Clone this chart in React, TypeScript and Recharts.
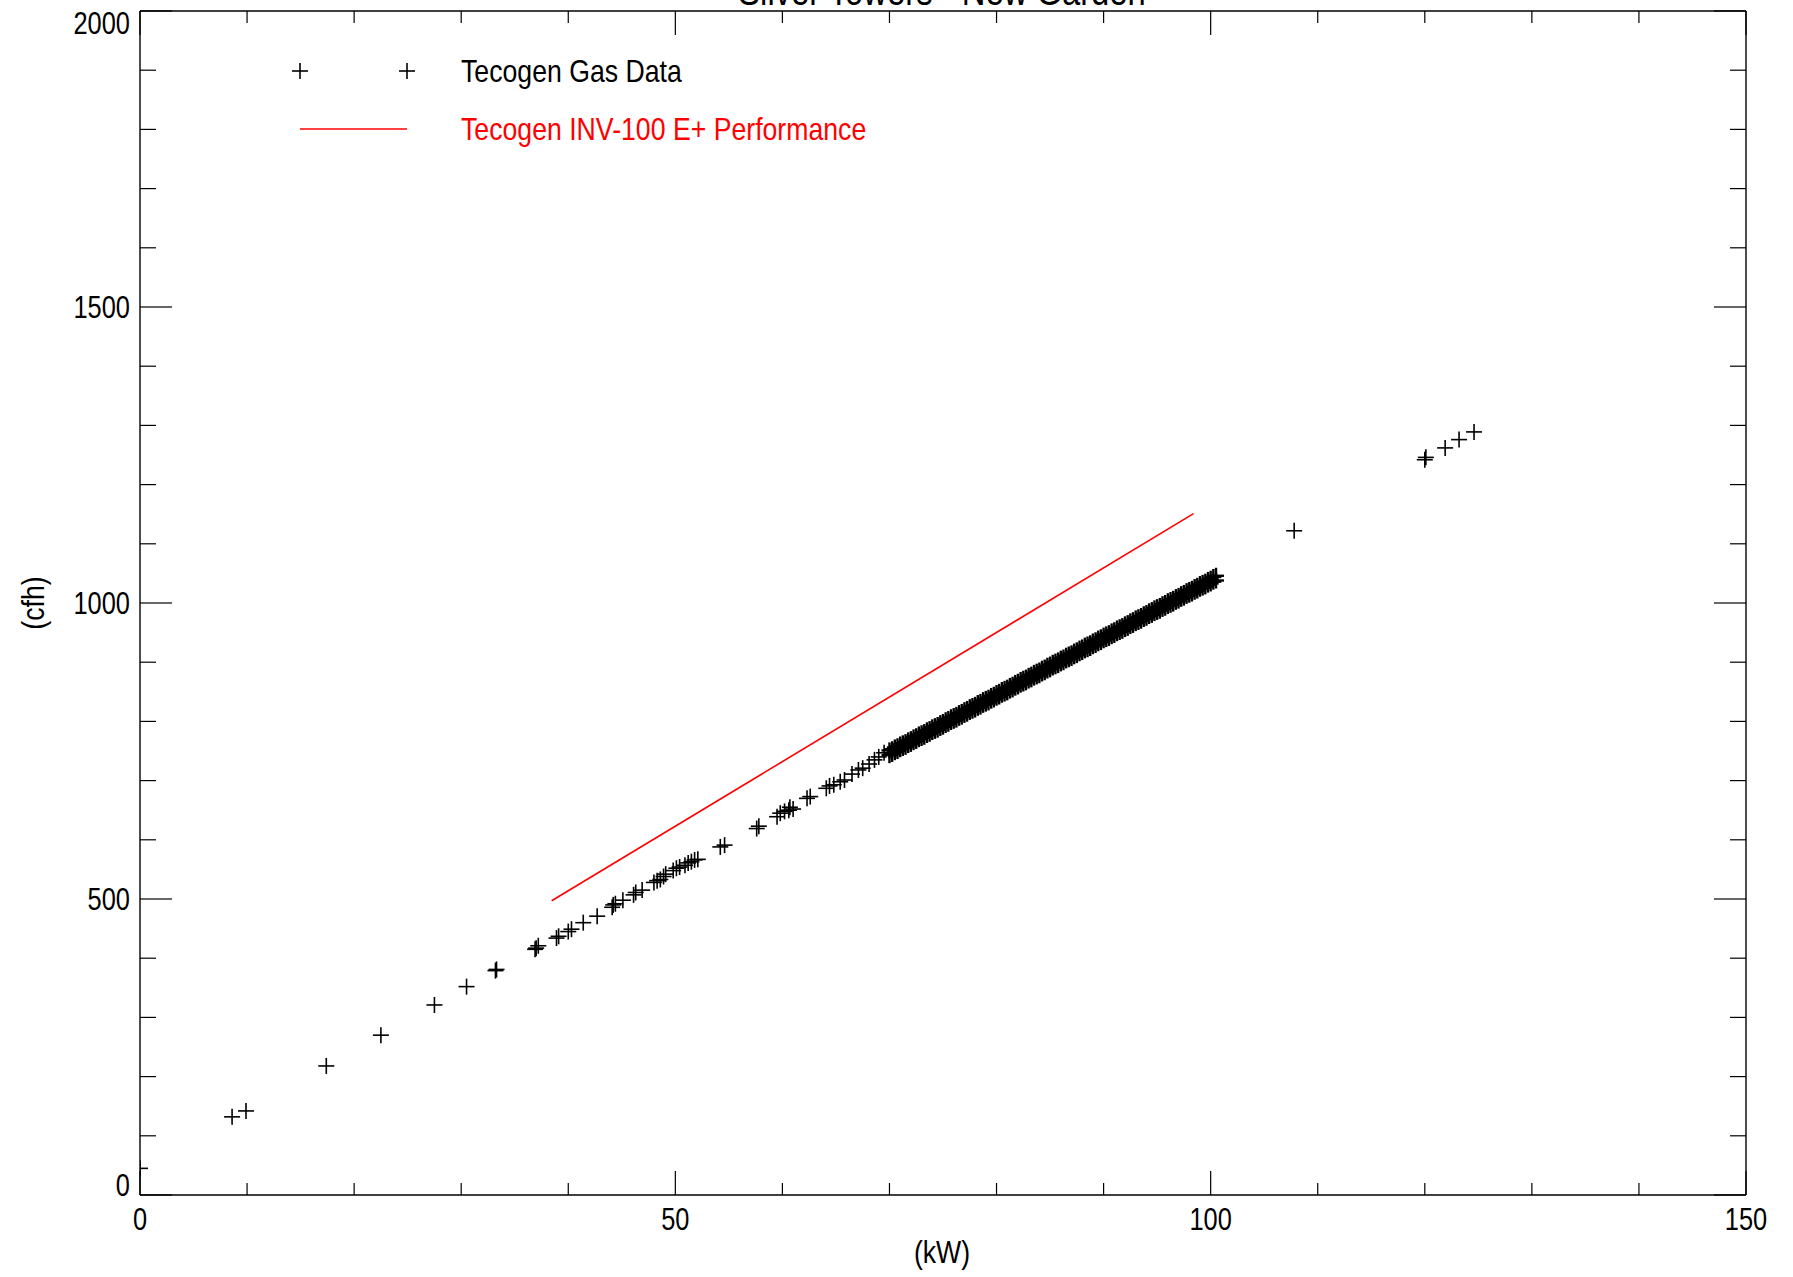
import { Scatter, ScatterChart, XAxis, YAxis } from "recharts";

const FONT = '"Liberation Sans", Arial, sans-serif';

const X_TICKS = [0, 10, 20, 30, 40, 50, 60, 70, 80, 90, 100, 110, 120, 130, 140, 150];
const Y_TICKS = [
  0, 100, 200, 300, 400, 500, 600, 700, 800, 900, 1000, 1100, 1200, 1300, 1400, 1500, 1600,
  1700, 1800, 1900, 2000,
];

// scattered gas readings (kW, cfh)
const SPARSE_KW = [
  0, 8.6, 9.9, 17.4, 22.5, 27.5, 30.5, 33.2, 33.3, 36.9, 37.0, 37.2, 38.9, 39.1, 40.0, 40.3,
  41.4, 42.7, 44.1, 44.2, 44.4, 45.1, 46.1, 46.3, 46.9, 48.0, 48.3, 48.6, 48.9, 49.1, 49.8,
  50.1, 50.4, 50.9, 51.2, 51.5, 51.8, 52.1, 54.2, 54.6, 57.6, 57.8, 59.5, 59.8, 60.2, 60.6,
  60.7, 61.0, 62.3, 62.6, 64.1, 64.4, 64.8, 65.4, 65.8, 66.5, 67.1, 67.5, 68.1, 68.6, 69.0,
  69.5, 107.8, 120.0, 120.1, 121.9, 123.2, 124.6,
];
const SPARSE_CFH = [
  45, 132, 142, 218, 270, 321, 352, 379, 381, 415, 417, 421, 434, 437, 445, 449, 460, 471, 486,
  490, 492, 498, 507, 511, 515, 528, 531, 533, 538, 542, 548, 552, 554, 557, 561, 563, 566, 567,
  588, 591, 619, 623, 639, 645, 648, 650, 655, 652, 670, 673, 687, 691, 693, 698, 701, 711, 718,
  721, 728, 735, 740, 747, 1122, 1242, 1246, 1262, 1276, 1289,
];

// the dense band of readings between 70 and 100 kW (upper and lower edge)
const BAND_KW = [
  70.0, 70.25, 70.5, 70.75, 71.0, 71.25, 71.5, 71.75, 72.0, 72.25, 72.5, 72.75, 73.0, 73.25,
  73.5, 73.75, 74.0, 74.25, 74.5, 74.75, 75.0, 75.25, 75.5, 75.75, 76.0, 76.25, 76.5, 76.75,
  77.0, 77.25, 77.5, 77.75, 78.0, 78.25, 78.5, 78.75, 79.0, 79.25, 79.5, 79.75, 80.0, 80.25,
  80.5, 80.75, 81.0, 81.25, 81.5, 81.75, 82.0, 82.25, 82.5, 82.75, 83.0, 83.25, 83.5, 83.75,
  84.0, 84.25, 84.5, 84.75, 85.0, 85.25, 85.5, 85.75, 86.0, 86.25, 86.5, 86.75, 87.0, 87.25,
  87.5, 87.75, 88.0, 88.25, 88.5, 88.75, 89.0, 89.25, 89.5, 89.75, 90.0, 90.25, 90.5, 90.75,
  91.0, 91.25, 91.5, 91.75, 92.0, 92.25, 92.5, 92.75, 93.0, 93.25, 93.5, 93.75, 94.0, 94.25,
  94.5, 94.75, 95.0, 95.25, 95.5, 95.75, 96.0, 96.25, 96.5, 96.75, 97.0, 97.25, 97.5, 97.75,
  98.0, 98.25, 98.5, 98.75, 99.0, 99.25, 99.5, 99.75, 100.0, 100.25, 100.5,
];
const BAND_CFH_HIGH = [
  751, 753, 756, 758, 761, 763, 765, 768, 770, 773, 775, 778, 780, 782, 785, 787, 790, 792, 794,
  797, 799, 802, 804, 807, 809, 811, 814, 816, 819, 821, 824, 826, 828, 831, 833, 836, 838, 840,
  843, 845, 848, 850, 853, 855, 857, 860, 862, 865, 867, 870, 872, 874, 877, 879, 882, 884, 886,
  889, 891, 894, 896, 899, 901, 903, 906, 908, 911, 913, 915, 918, 920, 923, 925, 928, 930, 932,
  935, 937, 940, 942, 945, 947, 949, 952, 954, 957, 959, 961, 964, 966, 969, 971, 974, 976, 978,
  981, 983, 986, 988, 991, 993, 995, 998, 1000, 1003, 1005, 1007, 1010, 1012, 1015, 1017, 1020,
  1022, 1024, 1027, 1029, 1032, 1034, 1036, 1039, 1041, 1044, 1046,
];
const BAND_CFH_LOW = [
  743, 745, 748, 750, 753, 755, 757, 760, 762, 765, 767, 770, 772, 774, 777, 779, 782, 784, 786,
  789, 791, 794, 796, 799, 801, 803, 806, 808, 811, 813, 816, 818, 820, 823, 825, 828, 830, 832,
  835, 837, 840, 842, 845, 847, 849, 852, 854, 857, 859, 862, 864, 866, 869, 871, 874, 876, 878,
  881, 883, 886, 888, 891, 893, 895, 898, 900, 903, 905, 907, 910, 912, 915, 917, 920, 922, 924,
  927, 929, 932, 934, 937, 939, 941, 944, 946, 949, 951, 953, 956, 958, 961, 963, 966, 968, 970,
  973, 975, 978, 980, 983, 985, 987, 990, 992, 995, 997, 999, 1002, 1004, 1007, 1009, 1012,
  1014, 1016, 1019, 1021, 1024, 1026, 1028, 1031, 1033, 1036, 1038,
];

// INV-100 E+ rated curve
const PERF_KW = [38.45, 98.4];
const PERF_CFH = [497, 1151];

const sparseData = SPARSE_KW.map((kw, i) => ({ kw, cfh: SPARSE_CFH[i] }));
const bandData = [
  ...BAND_KW.map((kw, i) => ({ kw, cfh: BAND_CFH_HIGH[i] })),
  ...BAND_KW.map((kw, i) => ({ kw, cfh: BAND_CFH_LOW[i] })),
];
const perfData = PERF_KW.map((kw, i) => ({ kw, cfh: PERF_CFH[i] }));

function Plus(props: any) {
  const { cx, cy, sw = 1.6 } = props;
  if (cx == null || cy == null) return <g />;
  return (
    <g>
      <line x1={cx - 8} x2={cx + 8} y1={cy} y2={cy} stroke="#000" strokeWidth={sw} />
      <line x1={cx} x2={cx} y1={cy - 8} y2={cy + 8} stroke="#000" strokeWidth={sw} />
    </g>
  );
}

// arial-narrow look: liberation sans squeezed horizontally
function NarrowText(props: any) {
  const { x, y, rotate = 0, size = 31, sx = 0.86, fill = "#000", anchor = "start", children } = props;
  return (
    <text
      x={0}
      y={0}
      textAnchor={anchor}
      transform={`translate(${x} ${y}) rotate(${rotate}) scale(${sx} 1)`}
      style={{ fontFamily: FONT, fontSize: size, fill }}
    >
      {children}
    </text>
  );
}

function BottomTick(props: any) {
  const { x, y, payload } = props;
  const v = payload.value as number;
  const major = v % 50 === 0;
  return (
    <g>
      <line x1={x} x2={x} y1={y} y2={y - (major ? 24 : 12)} stroke="#000" strokeWidth={1.2} />
      {major && (
        <NarrowText x={x} y={y + 35} anchor="middle" sx={0.82}>
          {v}
        </NarrowText>
      )}
    </g>
  );
}

function TopTick(props: any) {
  const { x, y, payload } = props;
  const major = (payload.value as number) % 50 === 0;
  return <line x1={x} x2={x} y1={y} y2={y + (major ? 24 : 12)} stroke="#000" strokeWidth={1.2} />;
}

function LeftTick(props: any) {
  const { x, y, payload } = props;
  const v = payload.value as number;
  const major = v % 500 === 0;
  const shift = v === 2000 ? 12 : v === 0 ? -10 : 0;
  return (
    <g>
      <line x1={x} x2={x + (major ? 32 : 16)} y1={y} y2={y} stroke="#000" strokeWidth={1.2} />
      {major && (
        <NarrowText x={x - 10} y={y + shift + 11} anchor="end" sx={0.82}>
          {v}
        </NarrowText>
      )}
    </g>
  );
}

function RightTick(props: any) {
  const { x, y, payload } = props;
  const major = (payload.value as number) % 500 === 0;
  return <line x1={x} x2={x - (major ? 32 : 16)} y1={y} y2={y} stroke="#000" strokeWidth={1.2} />;
}

export default function App() {
  const axisLine = { stroke: "#000", strokeWidth: 1.4 };
  return (
    <div style={{ position: "absolute", left: 0, top: 0, width: 1793, height: 1277, background: "#fff" }}>
      <ScatterChart
        width={1793}
        height={1277}
        margin={{ top: 6, right: 37, bottom: 52, left: 80 }}
      >
        <XAxis
          xAxisId="b"
          type="number"
          dataKey="kw"
          domain={[0, 150]}
          ticks={X_TICKS}
          interval={0}
          orientation="bottom"
          height={30}
          tickSize={0}
          tickMargin={0}
          tickLine={false}
          axisLine={axisLine}
          tick={(p: any) => <BottomTick {...p} />}
          allowDataOverflow
        />
        <XAxis
          xAxisId="t"
          type="number"
          dataKey="kw"
          domain={[0, 150]}
          ticks={X_TICKS}
          interval={0}
          orientation="top"
          height={5}
          tickSize={0}
          tickMargin={0}
          tickLine={false}
          axisLine={axisLine}
          tick={(p: any) => <TopTick {...p} />}
        />
        <YAxis
          yAxisId="l"
          type="number"
          dataKey="cfh"
          domain={[0, 2000]}
          ticks={Y_TICKS}
          interval={0}
          orientation="left"
          width={60}
          tickSize={0}
          tickMargin={0}
          tickLine={false}
          axisLine={axisLine}
          tick={(p: any) => <LeftTick {...p} />}
          allowDataOverflow
        />
        <YAxis
          yAxisId="r"
          type="number"
          dataKey="cfh"
          domain={[0, 2000]}
          ticks={Y_TICKS}
          interval={0}
          orientation="right"
          width={10}
          tickSize={0}
          tickMargin={0}
          tickLine={false}
          axisLine={axisLine}
          tick={(p: any) => <RightTick {...p} />}
        />
        <Scatter
          name="Tecogen INV-100 E+ Performance"
          data={perfData}
          xAxisId="t"
          yAxisId="r"
          line={{ stroke: "#ff0000", strokeWidth: 1.6 }}
          lineType="joint"
          shape={() => <g />}
          isAnimationActive={false}
        />
        <Scatter
          name="Tecogen Gas Data"
          data={sparseData}
          xAxisId="b"
          yAxisId="l"
          shape={(p: any) => <Plus {...p} />}
          isAnimationActive={false}
        />
        <Scatter
          name="Tecogen Gas Data (dense)"
          data={bandData}
          xAxisId="b"
          yAxisId="l"
          shape={(p: any) => <Plus {...p} sw={2.4} />}
          isAnimationActive={false}
        />
      </ScatterChart>
      <svg
        width={1793}
        height={1277}
        style={{ position: "absolute", left: 0, top: 0, pointerEvents: "none" }}
      >
        <NarrowText x={942} y={5} size={40} sx={0.82} anchor="middle">
          Silver Towers - New Garden
        </NarrowText>
        <NarrowText x={942} y={1263} anchor="middle">
          (kW)
        </NarrowText>
        <NarrowText x={44} y={603} rotate={-90} anchor="middle">
          (cfh)
        </NarrowText>
        <Plus cx={300} cy={71} />
        <Plus cx={407} cy={71} />
        <NarrowText x={461} y={82}>
          Tecogen Gas Data
        </NarrowText>
        <line x1={300} x2={407} y1={129} y2={129} stroke="#ff0000" strokeWidth={1.6} />
        <NarrowText x={461} y={140} fill="#ff0000">
          Tecogen INV-100 E+ Performance
        </NarrowText>
      </svg>
    </div>
  );
}
